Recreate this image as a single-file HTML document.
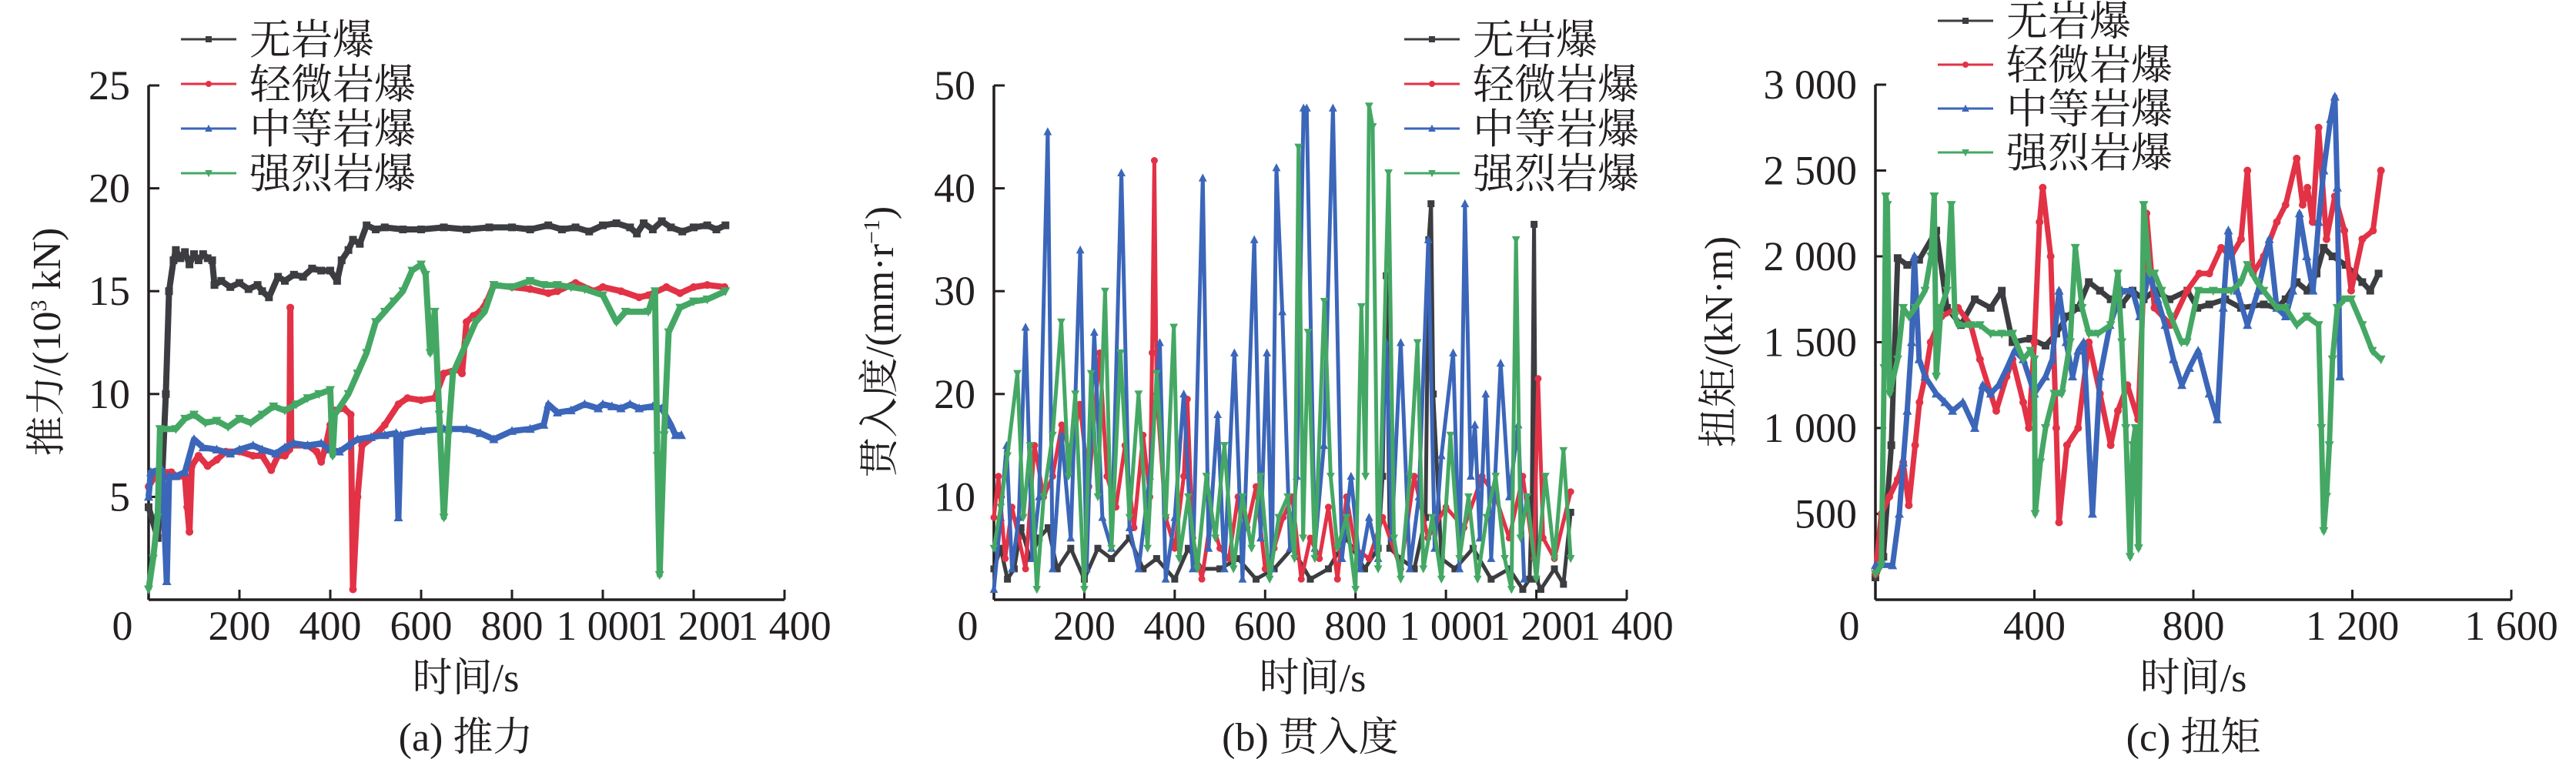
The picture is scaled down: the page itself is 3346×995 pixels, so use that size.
<!DOCTYPE html>
<html><head><meta charset="utf-8">
<style>
html,body{margin:0;padding:0;background:#fff;}
svg{display:block;}
text{font-family:"Liberation Serif","Noto Serif CJK SC",serif;fill:#231f20;}
</style></head>
<body>
<svg id="fig" width="3346" height="995" viewBox="0 0 3346 995" xmlns="http://www.w3.org/2000/svg"></svg>
<script>
// ---------- Panel (a) thrust data ----------
const aNoneT=[0,20,30,38,45,55,60,70,80,90,100,110,120,130,140,145,160,180,200,220,240,250,265,285,300,320,340,360,380,400,415,425,440,450,465,480,500,520,560,600,650,700,750,800,840,880,910,940,970,1000,1030,1060,1075,1090,1110,1130,1150,1175,1200,1230,1250,1270];
const aNoneV=[4.5,3,6,10,15,16.5,17,16.6,16.9,16.3,16.8,16.5,16.8,16.6,16.5,15.3,15.5,15.2,15.4,15.1,15.3,15,14.7,15.7,15.5,15.8,15.7,16.1,16,16,15.5,16.5,17,17.5,17.3,18.2,18,18.1,18,18,18.1,18,18.1,18.1,18,18.2,18,18.1,17.9,18.2,18.3,18.1,17.8,18.3,18,18.4,18.1,17.9,18.1,18.2,18,18.2];
const aSlightT=[0,20,50,60,80,85,90,95,110,130,150,170,200,230,250,270,285,300,310,312,314,350,370,380,390,400,410,430,445,450,460,470,500,520,550,570,600,630,650,680,690,700,715,730,745,760,800,840,880,900,940,980,1000,1040,1080,1100,1140,1170,1200,1230,1268];
const aSlightV=[5.5,6.2,6.2,6,6,4.5,3.3,6.5,7,6.5,6.8,7.2,7.2,7,7,6.3,7,7,7.3,14.2,7.5,7.5,7.2,6.7,7.5,8.5,9.2,9.3,9,0.5,5,7.5,8,8.5,9.5,9.8,9.7,9.8,11,11.2,11,13.5,13.8,14,14.5,15.3,15.2,15.1,14.9,15,15.4,15,15.2,15,14.7,14.8,15.2,14.9,15.2,15.3,15.2];
const aModT=[0,5,20,30,40,45,60,80,100,120,150,180,200,230,250,280,300,320,350,380,400,420,440,460,490,520,545,550,555,600,650,700,730,760,800,840,870,880,900,930,960,990,1000,1020,1040,1060,1080,1110,1130,1150,1160,1173];
const aModV=[5,6.2,6.3,6.3,0.9,6,6,6.2,7.8,7.4,7.3,7.1,7.3,7.5,7.3,7.1,7.4,7.6,7.5,7.6,7.3,7.2,7.5,7.8,7.9,8,8.1,4,8,8.2,8.3,8.3,8.1,7.8,8.2,8.3,8.5,9.5,9.1,9.2,9.5,9.3,9.5,9.4,9.3,9.5,9.3,9.4,9.3,8.5,8,8];
const aStrongT=[0,10,20,25,60,80,100,125,150,175,200,225,250,275,300,325,350,375,400,405,410,440,460,480,500,520,540,560,580,600,610,620,630,640,650,660,670,700,720,740,760,800,840,870,900,930,960,1000,1030,1050,1100,1115,1120,1125,1135,1145,1170,1200,1230,1270];
const aStrongV=[0.5,2,4,8.3,8.3,8.8,9,8.6,8.7,8.4,8.8,8.6,9,9.4,9.2,9.5,9.8,10,10.2,7,9,10,11,12,13.5,14,14.5,15,16,16.3,15.8,12,14,9,4,8,11,12.5,13.5,14,15.3,15.2,15.5,15.3,15.3,15.2,15.1,14.8,13.5,14,14,15,7,1.2,8,13,14.2,14.5,14.6,15];
const aYTicks=[5,10,15,20,25];
const aXTicks=[0,200,400,600,800,1000,1200,1400];
const aXLabels=["0","200","400","600","800","1 000","1 200","1 400"];

// ---------- Panel (b) penetration data ----------
const bNoneT=[0,15,30,45,60,80,100,120,140,170,200,230,260,300,330,360,400,430,460,500,540,580,620,660,700,740,780,820,850,860,868,876,900,930,955,962,967,972,990,1020,1060,1100,1140,1170,1185,1190,1195,1200,1210,1240,1260,1276];
const bNoneV=[3,5,2,3,7,4,6,7,3,5,2,5,4,6,3,4,2,5,3,3,4,2,3,5,2,3,6,3,5,12,31.5,5,4,3,8,35,38.5,20,4,3,5,2,3,1,2,10,36.5,2,1,3,1.5,8.5];
const bSlightT=[0,10,25,40,55,70,90,110,130,150,170,190,210,234,250,270,290,310,330,345,350,355,360,380,400,420,428,440,460,480,500,520,540,560,580,600,620,640,660,680,700,720,740,760,780,800,830,860,900,930,960,1000,1040,1080,1110,1140,1170,1195,1204,1215,1240,1276];
const bSlightV=[8,12,4,9,6,3,15,10,12,17,14,19,11,24,12,9,15,7,16,10,24,42.7,20,8,5,12,19.5,6,2,8,5,4,10,7,11,3,5,8,10,2,6,4,9,2,10,5,4,8,3,12,6,9,7,12,10,6,12,4,21.5,6,4,10.5];
const bModT=[0,15,28,40,55,70,85,100,119,130,150,170,191,205,222,240,260,282,300,320,345,367,380,400,420,440,462,475,495,510,532,550,576,590,604,615,625,638,655,670,685,692,710,730,750,770,790,810,830,850,868,880,900,920,940,961,975,990,1016,1030,1042,1055,1064,1075,1088,1100,1121,1140,1160,1173];
const bModV=[1,8,15,3,8,26.5,4,10,45.5,3,16,6,34,3,26,8,5,41.5,7,3,12,25,2,8,20,3,41,5,18,3,24,2,35,6,24,3,42,28,5,12,47.8,47.8,5,15,47.8,4,12,3,8,4,25,6,25,3,10,35,5,14,24,3,38.5,12,17,6,20,4,23,10,17,2];
const bStrongT=[0,15,30,52,65,80,95,110,130,149,165,180,200,215,230,246,260,280,300,320,340,360,380,398,410,430,450,470,490,510,530,550,570,590,610,630,650,665,674,684,695,710,731,745,760,780,800,813,822,830,838,850,873,885,900,920,937,950,970,990,1010,1030,1050,1070,1090,1110,1130,1145,1155,1165,1180,1200,1220,1240,1260,1276];
const bStrongV=[5,9,14,22,8,15,1,10,16,27,12,20,1,22,10,30,5,24,8,20,5,22,8,26.5,4,10,3,12,6,15,3,10,5,12,2,8,10,4,44,6,26,4,29,12,5,8,1,28.5,12,48,46,3,41.5,6,2,12,25,3,8,2,16,4,10,2,8,12,4,1,35,6,10,2,12,4,14.5,4];
const bYTicks=[10,20,30,40,50];
const bXTicks=[0,200,400,600,800,1000,1200,1400];
const bXLabels=["0","200","400","600","800","1 000","1 200","1 400"];

// ---------- Panel (c) torque data ----------
const cNoneT=[0,20,40,56,80,110,153,180,215,250,290,318,345,390,428,455,482,510,537,565,592,620,647,675,702,740,785,810,840,880,920,977,1010,1032,1060,1087,1110,1128,1150,1183,1205,1225,1245,1266];
const cNoneV=[130,250,900,1990,1950,1980,2150,1700,1600,1750,1700,1800,1500,1520,1480,1550,1650,1700,1850,1800,1750,1720,1800,1750,1800,1750,1800,1700,1720,1750,1700,1720,1700,1750,1850,1800,1900,2050,2000,1950,1900,1850,1800,1900];
const cSlightT=[0,15,35,56,70,84,100,111,125,139,166,208,240,263,290,304,330,345,372,386,400,413,421,441,455,462,482,510,537,565,592,610,634,661,682,702,743,784,815,840,870,895,920,936,950,977,1010,1032,1060,1075,1087,1100,1115,1135,1156,1180,1197,1225,1252,1272];
const cSlightV=[150,500,600,700,800,550,900,1150,1300,1500,1650,1700,1600,1400,1200,1100,1300,1400,1150,1000,1500,2200,2400,2000,1000,450,900,1000,1500,1200,900,1100,1250,1050,2250,1700,1600,1800,1900,1900,2050,2000,2100,2500,1900,2000,2200,2300,2570,2300,2400,2200,2750,2100,2350,2150,1800,2100,2150,2500];
const cModT=[0,43,60,70,80,91,98,110,125,153,175,194,220,250,270,290,310,331,350,372,400,428,445,462,480,496,510,524,546,565,590,620,647,665,688,710,729,750,771,790,812,840,860,875,888,910,936,963,991,1010,1032,1050,1067,1085,1101,1115,1128,1145,1156,1162,1169];
const cModV=[200,200,500,800,1100,1500,2000,1400,1300,1200,1150,1100,1150,1000,1250,1200,1250,1350,1450,1400,1200,1300,1400,1800,1500,1300,1450,1500,500,1300,1600,1800,1800,1650,1900,1750,1600,1400,1250,1350,1450,1200,1050,1700,2150,1800,1600,1800,2100,1700,1650,1800,2250,2000,1800,2200,2500,2800,2930,2400,1300];
const cStrongT=[0,15,22,26,30,36,56,70,84,100,125,140,148,153,165,180,191,200,208,240,263,290,318,345,372,390,400,402,415,428,450,469,490,503,520,537,560,592,610,620,630,641,648,654,662,675,690,702,720,743,770,784,812,850,895,920,936,960,977,1010,1032,1060,1085,1115,1122,1128,1135,1142,1150,1162,1180,1197,1225,1250,1272];
const cStrongV=[150,200,1350,2350,2300,1200,1400,1700,1650,1700,1800,2000,2350,1300,1700,1800,2300,1650,1600,1600,1600,1550,1550,1550,1400,1450,1400,500,800,1000,1200,1200,1500,2050,1700,1550,1550,1600,1900,1500,1000,250,900,1000,300,2300,1900,1900,1800,1650,1500,1500,1800,1800,1800,1850,1950,1850,1800,1700,1700,1600,1650,1600,1000,400,600,900,1400,1700,1750,1750,1600,1450,1400];
const cYTicks=[500,1000,1500,2000,2500,3000];
const cYLabels=["500","1 000","1 500","2 000","2 500","3 000"];
const cXTicks=[0,400,800,1200,1600];
const cXLabels=["0","400","800","1 200","1 600"];

const NS="http://www.w3.org/2000/svg";
const svg=document.getElementById('fig');
const COLORS={none:"#3c3d41",slight:"#e23246",mod:"#3b66b9",strong:"#44a864"};

function mk(tag,attrs,parent){
  const el=document.createElementNS(NS,tag);
  for(const k in attrs) el.setAttribute(k,attrs[k]);
  (parent||svg).appendChild(el);
  return el;
}

function makeScales(cfg){
  const sx=t=>cfg.x0+(t/cfg.xmax)*(cfg.x1-cfg.x0);
  const sy=v=>cfg.yb-(v/cfg.ymax)*(cfg.yb-cfg.yt);
  return {sx,sy};
}

function marker(g,type,x,y,color,s){
  let el;
  if(type==="square"){
    el=mk('rect',{x:x-s,y:y-s,width:2*s,height:2*s,fill:color},g);
  }else if(type==="circle"){
    el=mk('circle',{cx:x,cy:y,r:s,fill:color},g);
  }else if(type==="up"){
    el=mk('polygon',{points:`${x},${y-s*1.3} ${x-s*1.2},${y+s} ${x+s*1.2},${y+s}`,fill:color},g);
  }else{
    el=mk('polygon',{points:`${x},${y+s*1.3} ${x-s*1.2},${y-s} ${x+s*1.2},${y-s}`,fill:color},g);
  }
  
  
}

function drawSeries(cfg,sc,T,V,color,type,name,sw,ms){
  const g=mk('g',{});
  
  
  const pts=T.map((t,i)=>sc.sx(t).toFixed(1)+","+sc.sy(V[i]).toFixed(1)).join(" ");
  const pl=mk('polyline',{points:pts,fill:"none",stroke:color,"stroke-width":sw,"stroke-linejoin":"round"},g);
  
  
  T.forEach((t,i)=>marker(g,type,sc.sx(t),sc.sy(V[i]),color,ms));
}

function drawAxes(cfg,sc,yTicks,yLabels,xTicks,xLabels,prefix){
  const g=mk('g',{});
  
  
  const l1=mk('line',{x1:cfg.x0,y1:cfg.yt,x2:cfg.x0,y2:cfg.yb,stroke:"#231f20","stroke-width":3.5},g);
  
  
  const l2=mk('line',{x1:cfg.x0,y1:cfg.yb,x2:cfg.x1,y2:cfg.yb,stroke:"#231f20","stroke-width":3.5},g);
  
  
  yTicks.forEach((v,i)=>{
    const y=sc.sy(v);
    const tk=mk('line',{x1:cfg.x0,y1:y,x2:cfg.x0+14,y2:y,stroke:"#231f20","stroke-width":3},g);
    
    
    const tx=mk('text',{x:cfg.x0-24,y:y+18,"font-size":54,"text-anchor":"end"},g);
    tx.textContent=yLabels[i];
    
    
  });
  xTicks.forEach((v,i)=>{
    const x=sc.sx(v);
    if(v>0){
      const tk=mk('line',{x1:x,y1:cfg.yb,x2:x,y2:cfg.yb-13,stroke:"#231f20","stroke-width":3},g);
      
      
    }
    const tx=mk('text',{x:(v===0?x-34:x),y:cfg.yb+52,"font-size":54,"text-anchor":"middle"},g);
    tx.textContent=xLabels[i];
    
    
  });
}

function drawLegend(lx,ly,dy,prefix){
  const items=[["无岩爆","none","square"],["轻微岩爆","slight","circle"],["中等岩爆","mod","up"],["强烈岩爆","strong","down"]];
  const g=mk('g',{});
  
  
  items.forEach((it,i)=>{
    const y=ly+i*dy;
    const eg=mk('g',{},g);
    
    
    mk('line',{x1:lx,y1:y,x2:lx+72,y2:y,stroke:COLORS[it[1]],"stroke-width":3},eg);
    marker(eg,it[2],lx+36,y,COLORS[it[1]],4);
    const t=mk('text',{x:lx+89,y:y+19,"font-size":54},eg);
    t.textContent=it[0];
  });
}

function label(x,y,txt,name,rot,html){
  const t=mk('text',{x:x,y:y,"font-size":52,"text-anchor":"middle"});
  if(rot) t.setAttribute('transform',`rotate(-90 ${x} ${y})`);
  if(html) t.innerHTML=html; else t.textContent=txt;
  
  
}

// Panel a
const cfgA={x0:193,x1:1019,yb:779,yt:111,xmax:1400,ymax:25};
const scA=makeScales(cfgA);
drawAxes(cfgA,scA,aYTicks,aYTicks.map(String),aXTicks,aXLabels,'thrust');
drawSeries(cfgA,scA,aNoneT,aNoneV,COLORS.none,"square","thrust-none",8,5);
drawSeries(cfgA,scA,aSlightT,aSlightV,COLORS.slight,"circle","thrust-slight",8,5);
drawSeries(cfgA,scA,aModT,aModV,COLORS.mod,"up","thrust-moderate",8,5);
drawSeries(cfgA,scA,aStrongT,aStrongV,COLORS.strong,"down","thrust-strong",8,5);
drawLegend(235,51,58,'thrust');
label(605,898,"时间/s","thrust-x-axis-title");
label(605,975,"(a) 推力","thrust-caption");
label(78,444,"","thrust-y-axis-title",true,'推力/(10<tspan font-size="30" dy="-18">3</tspan><tspan dy="18"> kN)</tspan>');

// Panel b
const cfgB={x0:1291,x1:2113,yb:779,yt:111,xmax:1400,ymax:50};
const scB=makeScales(cfgB);
drawAxes(cfgB,scB,bYTicks,bYTicks.map(String),bXTicks,bXLabels,'penetration');
drawSeries(cfgB,scB,bNoneT,bNoneV,COLORS.none,"square","penetration-none",5,4.5);
drawSeries(cfgB,scB,bSlightT,bSlightV,COLORS.slight,"circle","penetration-slight",5,4.5);
drawSeries(cfgB,scB,bModT,bModV,COLORS.mod,"up","penetration-moderate",5,4.5);
drawSeries(cfgB,scB,bStrongT,bStrongV,COLORS.strong,"down","penetration-strong",5,4.5);
drawLegend(1824,51,58,'penetration');
label(1705,898,"时间/s","penetration-x-axis-title");
label(1702,975,"(b) 贯入度","penetration-caption");
label(1160,444,"","penetration-y-axis-title",true,'贯入度/(mm·r<tspan font-size="30" dy="-18">−1</tspan><tspan dy="18">)</tspan>');

// Panel c
const cfgC={x0:2436,x1:3262,yb:779,yt:110,xmax:1600,ymax:3000};
const scC=makeScales(cfgC);
drawAxes(cfgC,scC,cYTicks,cYLabels,cXTicks,cXLabels,'torque');
drawSeries(cfgC,scC,cNoneT,cNoneV,COLORS.none,"square","torque-none",7,5);
drawSeries(cfgC,scC,cSlightT,cSlightV,COLORS.slight,"circle","torque-slight",7,5);
drawSeries(cfgC,scC,cModT,cModV,COLORS.mod,"up","torque-moderate",7,5);
drawSeries(cfgC,scC,cStrongT,cStrongV,COLORS.strong,"down","torque-strong",7,5);
drawLegend(2517,27,57,'torque');
label(2849,898,"时间/s","torque-x-axis-title");
label(2849,975,"(c) 扭矩","torque-caption");
label(2250,444,"扭矩/(kN·m)","torque-y-axis-title",true);
</script>
</body></html>
